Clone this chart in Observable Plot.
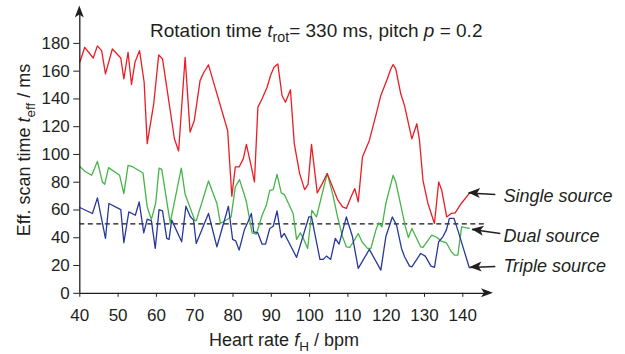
<!DOCTYPE html>
<html><head><meta charset="utf-8">
<script src="https://cdn.jsdelivr.net/npm/d3@7"></script>
<script src="https://cdn.jsdelivr.net/npm/@observablehq/plot@0.6"></script>
<style>
body{margin:0;background:#fff;}
#chart svg{font-family:"Liberation Sans",Arial,Helvetica,sans-serif;}
</style>
</head><body><div id="chart"></div>
<script>
// ---- data ----
const singleBpm = [40,41.3,43.5,44.6,45.7,46.7,48.5,50.7,51.5,52.6,53.5,54.4,55.6,56.8,57.6,59.3,60.6,61.6,64.7,65.8,67.5,68.8,69.9,71.4,72.4,73.6,78.6,79.7,80.6,81.6,82.7,83.5,84.6,85.6,86.5,87.6,88.9,89.8,90.7,91.7,92.8,93.7,95,96,97.4,98.7,99.6,100.5,102,103.3,104.6,106,107.3,108.6,109.6,110.8,111.8,112.7,113.8,115.6,117.3,118.6,120.3,121.2,121.8,122.5,123.8,124.8,126.7,128,128.7,129.6,130.9,132.6,133.7,134.5,135.8,137,138,139.6,141.8];
const singleMs  = [166.4,177.2,169.5,178.2,174.8,158,176,169.5,154.5,173.6,150.4,166.4,174.8,152,107.8,136.5,171.7,168.8,111.3,102.5,170,116.1,124.5,153.2,159.2,164.5,117.3,69.9,91,91,97,107.3,93.4,80.2,134.1,140.1,148.4,156.8,162.8,165.2,142.5,137.6,146.6,107.8,86.2,74.7,78.5,107.3,72.3,79,86.2,76.6,67.5,62.2,61.1,69.4,75.4,65.8,98.1,110.1,128.1,142.5,154.5,161.6,164.7,161.6,143.7,135,111.3,122.1,110.1,81.4,64.7,50.3,80.2,74.2,55,57.5,57.9,64.7,72.3];

const dualBpm = [40,41.3,43.1,44.6,45.9,46.5,47.5,50.4,51.5,52.6,53.9,56.5,57.6,58.7,59.8,60.7,61.4,63.6,66.5,67.5,70,70.4,73.6,75.8,76.7,77.5,79.5,80.6,81.7,83,83.5,85,86.1,87.6,88.7,89.6,90.5,91.5,92.6,93.4,95.7,96.6,97.6,98.5,99.5,100.6,101.8,104.6,106,107.3,108.6,109.6,110.5,111.7,112.7,113.7,115.1,116,117.3,118,118.9,119.9,121.8,122.5,125,125.8,126.7,129,129.6,131.9,133.3,134.2,135.7,137,137.8,138.7,139.7,141.7];
const dualMs  = [91.4,87.9,85,95,80.2,78.5,90.5,85,71.8,92.2,91,86.6,62.2,53.2,64.7,90.2,89.3,50.7,90.2,71.3,52.7,52.2,80.9,64.7,50.5,51.5,55,76.6,81.9,70.6,65.8,43.5,42.6,56.2,63.4,74.2,74.7,85.7,72.3,71.1,57.5,38.8,43.5,38.8,32.3,59.8,55,86.4,71.8,55,40.7,33.5,33,38.3,43.1,37,32.3,32.3,45.5,50.7,47.8,64.7,85,80.2,48,40.2,46.7,33.5,33,41.9,40.2,37.8,36.4,29.9,27.5,27.5,47.8,46.7];

const tripleBpm = [40,43.3,44.6,46.7,47.6,50.7,51.5,52.8,54.5,55.5,56.7,57.6,58.7,59.7,60.7,61.6,62.7,63.3,64,66.6,67.7,68.8,69.7,70.4,73.6,75.8,78.8,79.9,80.7,81.6,83,83.9,84.8,85.4,86.5,87.6,88.5,89.6,90.5,91.5,92.6,93.4,96.6,99.8,100.5,102.7,103.6,104.4,105.5,106.7,107.7,109.6,111.2,112.7,115.6,118.6,119.9,121.6,122.7,124,124.8,126.1,126.7,129,130.2,131.7,132.6,133.7,134.8,135.7,136.5,137.7,138.7,140.3,141.7];
const tripleMs  = [61.8,57.5,68.7,39.5,64.7,60.3,36.4,58.6,56.2,65.8,43.5,53.4,52.2,32.3,60.3,59.3,39.5,38.8,52.7,37.1,62.7,55.5,52.7,35.9,57.5,33.5,62.7,38.8,37.8,31.1,46,51.4,57.5,44.3,43.5,35.4,35.4,46.7,48.3,59.3,40.2,43.1,25.9,55,55,24.4,24.4,26.8,24.4,39.5,35.4,55,40.7,18,31.6,16.7,40.7,55,49.1,32.3,26.3,19.6,19.1,28.7,26.8,19.6,18.7,37.1,40.7,45.5,53.9,53.9,45.5,31.1,18.4];

const xTicks = [40,50,60,70,80,90,100,110,120,130,140];
const yTicks = [0,20,40,60,80,100,120,140,160,180];
const referenceLevel = 50;      // dashed line (ms)
const referenceEnd = 146;       // dashed line extent (bpm)
const xAxisEnd = 148;           // x axis arrow tip (bpm)
const yAxisEnd = 207;           // y axis arrow tip (ms)

const legendLabels  = ["Single source","Dual source","Triple source"];
const legendTextBpm = [150.6,150.6,150.6];
const legendTextMs  = [69.7,41.4,19.2];
const legendTailBpm = [148.5,149.8,148.5];
const legendTailMs  = [71.2,43.1,19.3];
const legendTipBpm  = [141.5,142.4,141.9];
const legendTipMs   = [72.3,45.9,18.6];

const colors = {single:"#ec1c24", dual:"#46b549", triple:"#28389a"};
const ink = "#231f20";

// ---- build tables ----
const toRows = (xs, ys) => xs.map((x,i)=>({bpm:x, ms:ys[i]}));
const singleRows = toRows(singleBpm, singleMs);
const dualRows = toRows(dualBpm, dualMs);
const tripleRows = toRows(tripleBpm, tripleMs);
const legendRows = legendLabels.map((l,i)=>({label:l, tx:legendTextBpm[i], ty:legendTextMs[i],
  x1:legendTailBpm[i], y1:legendTailMs[i], x2:legendTipBpm[i], y2:legendTipMs[i]}));

const plot = Plot.plot({
  width: 625, height: 354,
  marginLeft: 79.3, marginRight: 162.7, marginTop: 42.9, marginBottom: 61.2,
  style: {fontFamily:"Liberation Sans, Arial, sans-serif", fontSize:"17px", color:ink, background:"#fff", overflow:"visible"},
  x: {domain:[40,140], ticks:xTicks, tickSize:4, tickPadding:12, label:null, tickFormat:d=>String(d)},
  y: {domain:[0,180], ticks:yTicks, tickSize:6, tickPadding:4, label:null, tickFormat:d=>String(d)},
  marks: [
    Plot.ruleY([referenceLevel], {x1:40, x2:referenceEnd, stroke:"#111", strokeWidth:1.2, strokeDasharray:"5,3.5"}),
    Plot.line(dualRows, {x:"bpm", y:"ms", stroke:colors.dual, strokeWidth:1.3}),
    Plot.line(tripleRows, {x:"bpm", y:"ms", stroke:colors.triple, strokeWidth:1.3}),
    Plot.line(singleRows, {x:"bpm", y:"ms", stroke:colors.single, strokeWidth:1.3}),
    Plot.ruleY([0], {x1:40, x2:xAxisEnd - 2, stroke:ink, strokeWidth:1.3}),
    Plot.ruleX([40], {y1:0, y2:yAxisEnd - 5, stroke:ink, strokeWidth:1.3}),
    Plot.link(legendRows, {x1:"x1", y1:"y1", x2:"x2", y2:"y2", stroke:ink, strokeWidth:1.6}),
    Plot.text(legendRows, {x:"tx", y:"ty", text:"label", textAnchor:"start", fontSize:18, fontStyle:"italic", fill:ink})
  ]
});

document.getElementById("chart").appendChild(plot);

const sx = plot.scale("x"), sy = plot.scale("y");
const svg = d3.select(plot);
const g = svg.append("g");

function head(tx, ty, ang, len, half) {
  const bx = tx - len*Math.cos(ang), by = ty - len*Math.sin(ang);
  const nx = -Math.sin(ang)*half, ny = Math.cos(ang)*half;
  g.append("path").attr("d", `M${tx},${ty}L${bx+nx},${by+ny}L${bx+0.25*len*Math.cos(ang)},${by+0.25*len*Math.sin(ang)}L${bx-nx},${by-ny}Z`).attr("fill", ink);
}
// axis arrowheads
head(sx.apply(xAxisEnd), sy.apply(0), 0, 12, 4.5);
head(sx.apply(40), sy.apply(yAxisEnd), -Math.PI/2, 12, 4.5);
// legend arrowheads
legendRows.forEach(r => {
  const x1 = sx.apply(r.x1), y1 = sy.apply(r.y1), x2 = sx.apply(r.x2), y2 = sy.apply(r.y2);
  head(x2, y2, Math.atan2(y2-y1, x2-x1), 12, 5);
});

function rich(parts, opts) {
  const t = g.append("text").attr("x", opts.x || 0).attr("y", opts.y || 0)
    .attr("font-size", opts.size).attr("text-anchor", opts.anchor || "start").attr("fill", ink);
  if (opts.transform) t.attr("transform", opts.transform);
  let shifted = 0;
  parts.forEach(p => {
    const o = typeof p === "string" ? {t:p} : p;
    const s = t.append("tspan").text(o.t);
    if (o.i) s.attr("font-style", "italic");
    if (o.sub) { s.attr("font-size", opts.size*0.75).attr("dy", 5); shifted = 5; }
    else if (shifted) { s.attr("dy", -shifted); shifted = 0; }
  });
  t.style("white-space", "pre");
  return t;
}

rich(["Rotation time ", {t:"t", i:true}, {t:"rot", sub:true}, "= 330 ms, pitch ", {t:"p", i:true}, " = 0.2"],
  {x:150, y:37, size:19});
rich(["Heart rate ", {t:"f", i:true}, {t:"H", sub:true}, " / bpm"],
  {x:284, y:345.5, size:18, anchor:"middle"});
rich(["Eff. scan time ", {t:"t", i:true}, {t:"eff", sub:true}, " / ms"],
  {size:18, anchor:"middle", transform:"translate(30,150) rotate(-90)"});
</script>
</body></html>
